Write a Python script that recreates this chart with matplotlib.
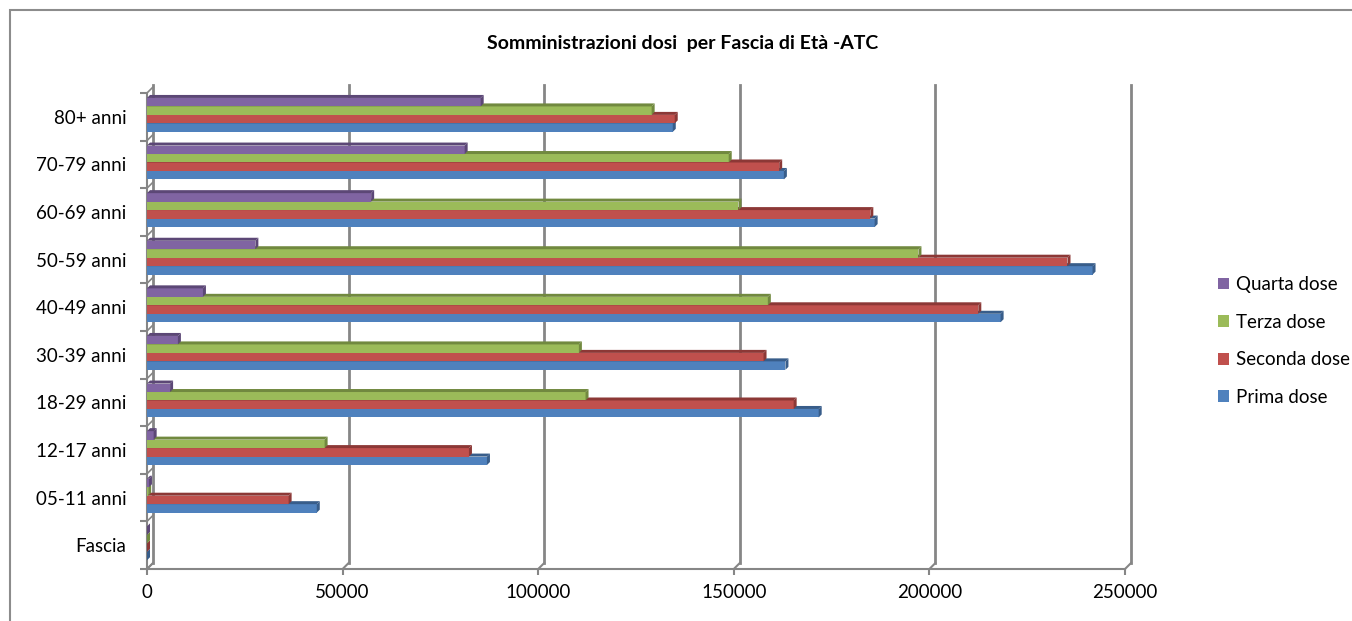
import matplotlib.pyplot as plt
from matplotlib.patches import Polygon, Rectangle, Patch
import numpy as np

plt.rcParams["font.family"] = ["Lato", "DejaVu Sans"]

categories = ["Fascia", "05-11 anni", "12-17 anni", "18-29 anni", "30-39 anni",
              "40-49 anni", "50-59 anni", "60-69 anni", "70-79 anni", "80+ anni"]
prima = [0, 43400, 86900, 171700, 163200, 218200, 241700, 186000, 162800, 134400]
seconda = [0, 36200, 82300, 165300, 157600, 212500, 235300, 184900, 161600, 134900]
terza = [0, 300, 45400, 112100, 110400, 158700, 197200, 151200, 148700, 129000]
quarta = [0, 500, 1700, 5900, 7900, 14300, 27700, 57300, 81200, 85300]

series = [
    ("Prima dose", prima, "#4F81BD", "#385D8A"),
    ("Seconda dose", seconda, "#C0504D", "#8C3836"),
    ("Terza dose", terza, "#9BBB59", "#71893F"),
    ("Quarta dose", quarta, "#8064A2", "#5C4776"),
]
xticks = [0, 50000, 100000, 150000, 200000, 250000]

W, H = 1352, 621
fig = plt.figure(figsize=(W / 100, H / 100), dpi=100)
ax = fig.add_axes([147 / W, 52 / H, 978 / W, 476 / H])
ax.set_xlim(0, 250000)
ax.set_ylim(-0.5, len(categories) - 0.5)

# pixel -> data conversions for the fake 3D depth
px_x = 250000 / 978
px_y = len(categories) / 476
bdx, bdy = 3 * px_x, 3 * px_y      # bar depth
wdx, wdy = 6 * px_x, 6 * px_y      # wall depth

grid_col = "#868686"
for v in xticks:
    ax.plot([v + wdx, v + wdx], [-0.5 + wdy, len(categories) - 0.5 + wdy + 0.05],
            color=grid_col, lw=2, clip_on=False, zorder=1)
    ax.plot([v, v + wdx], [-0.5, -0.5 + wdy], color=grid_col, lw=1.5,
            clip_on=False, zorder=1)
for k in range(len(categories) + 1):
    ax.plot([0, wdx], [k - 0.5, k - 0.5 + wdy], color=grid_col, lw=1.2,
            clip_on=False, zorder=1)

h = 0.178
y = np.arange(len(categories))
for i, (name, vals, col, dark) in enumerate(series):
    for yc, v in zip(y, vals):
        y0 = yc + 0.04 - 2 * h + i * h
        z = 3 + i
        ax.add_patch(Rectangle((0, y0), v, h, facecolor=col, edgecolor="none", zorder=z))
        ax.add_patch(Polygon([(0, y0 + h), (v, y0 + h), (v + bdx, y0 + h + bdy),
                              (bdx, y0 + h + bdy)], closed=True,
                             facecolor=dark, edgecolor="none", zorder=z))
        ax.add_patch(Polygon([(v, y0), (v + bdx, y0 + bdy), (v + bdx, y0 + h + bdy),
                              (v, y0 + h)], closed=True,
                             facecolor=dark, edgecolor="none", zorder=z))

for s in ["top", "right"]:
    ax.spines[s].set_visible(False)
for s in ["left", "bottom"]:
    ax.spines[s].set_color(grid_col)
    ax.spines[s].set_linewidth(1.5)

ax.set_xticks(xticks)
ax.set_xticklabels([str(t) for t in xticks], fontsize=13.5)
ax.tick_params(axis="x", length=4, color=grid_col, width=1.5, pad=7)
ax.set_yticks(y)
ax.set_yticklabels(categories, fontsize=13.5)
ax.tick_params(axis="y", which="major", length=0, pad=15)
ax.set_yticks(np.arange(len(categories) + 1) - 0.5, minor=True)
ax.tick_params(axis="y", which="minor", length=5, color=grid_col, width=1.5)

fig.text(683 / W, 1 - 44 / H, "Somministrazioni dosi  per Fascia di Età -ATC",
         ha="center", va="center", fontsize=14, fontweight="bold")

handles = [Patch(facecolor=col, label=name) for name, _, col, _ in series[::-1]]
fig.legend(handles=handles, loc="center left", bbox_to_anchor=(1210 / W, 1 - 341 / H),
           frameon=False, fontsize=13.5, handlelength=0.6, handleheight=0.6,
           handletextpad=0.4, labelspacing=1.1, borderaxespad=0)

fig.patches.append(Rectangle((10 / W, -0.1), 1.2, 1 - 10 / H + 0.1,
                             transform=fig.transFigure, fill=False,
                             edgecolor="#8C8C8C", lw=1.5))

fig.savefig("out.png", dpi=100)
